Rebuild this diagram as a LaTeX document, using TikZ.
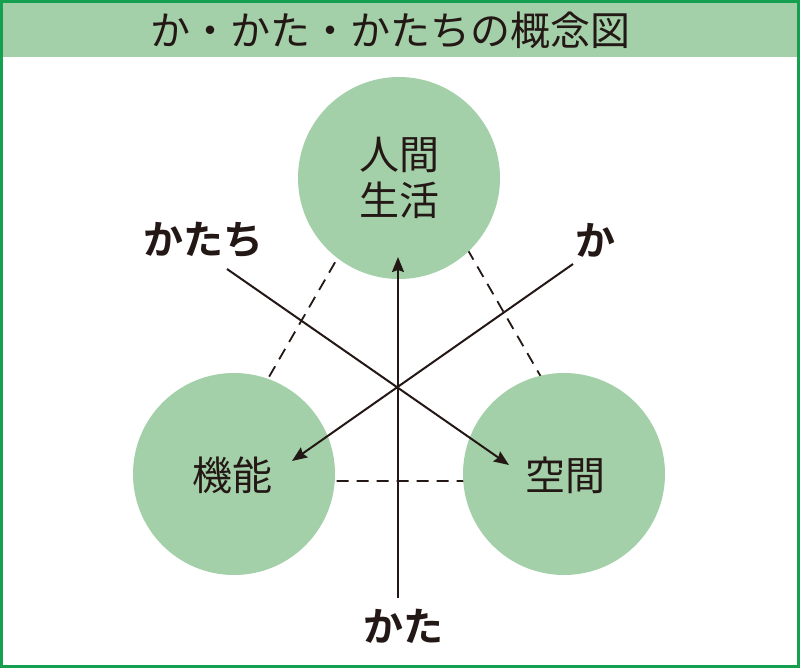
\documentclass[tikz,border=0pt]{standalone}
\usepackage{fontspec}
\newfontfamily\jp[BoldFont={Noto Sans CJK JP Bold}]{Noto Sans CJK JP}
\usetikzlibrary{arrows.meta}
\definecolor{bordergreen}{HTML}{14A050}
\definecolor{fillgreen}{HTML}{A3D0A8}
\definecolor{ink}{HTML}{231815}
\tikzset{
  circ/.style={circle, fill=fillgreen, minimum size=202pt, inner sep=0pt, text=ink,
    font=\jp\fontsize{40}{46}\selectfont, align=center},
  lbl/.style={text=ink, font=\jp\bfseries\fontsize{40}{46}\selectfont, inner sep=0pt},
  dashline/.style={draw=ink, line width=1.8pt, dash pattern=on 12pt off 8pt},
  arrowline/.style={draw=ink, line width=2pt, -{Stealth[length=15pt, width=12pt, inset=2pt]}},
  plainline/.style={draw=ink, line width=2pt}
}
\begin{document}
\begin{tikzpicture}[x=1pt, y=-1pt]
\useasboundingbox (0,0) rectangle (800,668);
% background and title bar
\fill[white] (0,0) rectangle (800,668);
\fill[fillgreen] (0,0) rectangle (800,57);
\draw[bordergreen, line width=3pt] (1.5,1.5) rectangle (798.5,666.5);
\node[text=ink, font=\jp\fontsize{40}{46}\selectfont, inner sep=0pt] (title) at (390,30) {か・かた・かたちの概念図};
% dashed triangle (behind circles)
\coordinate (tA) at (405,141);
\coordinate (tB) at (209,481);
\coordinate (tC) at (601,481);
\draw[dashline] (tA) -- (tB) -- (tC) -- cycle;
% circles
\node[circ] (life) at (399,178) {人間\\生活};
\node[circ] (func) at (234,474) {};
\node[circ] (space) at (564,474) {};
\node[text=ink, font=\jp\fontsize{40}{46}\selectfont, inner sep=0pt] (funct) at (232,475) {機能};
\node[text=ink, font=\jp\fontsize{40}{46}\selectfont, inner sep=0pt] (spacet) at (565,475) {空間};
% labels
\node[lbl] (katachi) at (203,240) {かたち};
\node[lbl] (ka) at (595,240) {か};
\node[lbl] (kata) at (403,626) {かた};
% arrows
\coordinate (kataS) at (398,598);
\coordinate (kataE) at (398,257);
\coordinate (kaS) at (573,264);
\coordinate (kaE) at (292,461);
\coordinate (katachiS) at (227,269);
\coordinate (katachiE) at (509,465);
\draw[arrowline] (kataS) -- (kataE);
\draw[arrowline] (kaS) -- (kaE);
\draw[arrowline] (katachiS) -- (katachiE);
\end{tikzpicture}
\end{document}
